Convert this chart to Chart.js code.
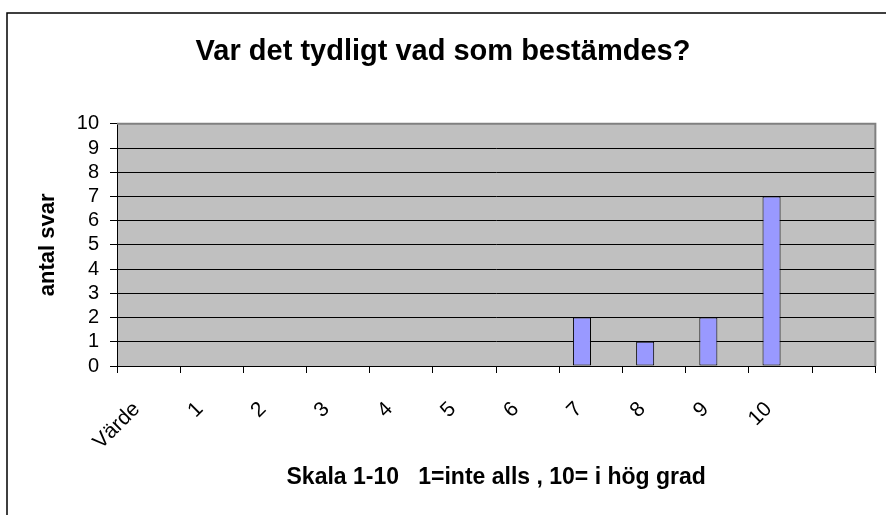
<!DOCTYPE html>
<html>
<head>
<meta charset="utf-8">
<script src="https://cdn.jsdelivr.net/npm/chart.js@4.4.1/dist/chart.umd.min.js"></script>
<style>
  html, body { margin: 0; padding: 0; background: #ffffff; }
  #wrap { width: 886px; height: 515px; }
</style>
</head>
<body>
<div id="wrap"><canvas id="chart" width="886" height="515"></canvas></div>
<script>
// category labels (last slot is an empty category in the source sheet)
const categories = ["Värde", "1", "2", "3", "4", "5", "6", "7", "8", "9", "10", ""];
// number of answers per scale step
const answers = [null, 0, 0, 0, 0, 0, 0, 2, 1, 2, 7, null];
// second (empty) series, keeps the bars on the left of each slot like the original
const emptySeries = [null, null, null, null, null, null, null, null, null, null, null, null];

const chartTitle = "Var det tydligt vad som bestämdes?";
const xTitle = "Skala 1-10   1=inte alls , 10= i hög grad";
const yTitle = "antal svar";
const yMin = 0;
const yMax = 10;
const yStep = 1;

const FONT = "Arial, 'Liberation Sans', sans-serif";

// gray plot background, plot border and outer frame
const frame = {
    id: "frame",
    beforeDraw(chart) {
        const ctx = chart.ctx;
        const a = chart.chartArea;
        ctx.save();
        ctx.fillStyle = "#ffffff";
        ctx.fillRect(0, 0, chart.width, chart.height);
        ctx.strokeStyle = "#000000";
        ctx.lineWidth = 1.5;
        ctx.strokeRect(7, 13, chart.width + 20, chart.height + 20);
        ctx.fillStyle = "#c0c0c0";
        ctx.fillRect(a.left, a.top, a.right - a.left, a.bottom - a.top);
        ctx.restore();
    },
    beforeDatasetsDraw(chart) {
        const ctx = chart.ctx;
        const a = chart.chartArea;
        ctx.save();
        ctx.strokeStyle = "#808080";
        ctx.lineWidth = 2;
        ctx.beginPath();
        ctx.moveTo(a.left, a.top);
        ctx.lineTo(a.right, a.top);
        ctx.lineTo(a.right, a.bottom);
        ctx.stroke();
        ctx.restore();
    }
};

new Chart(document.getElementById("chart"), {
    type: "bar",
    data: {
        labels: categories,
        datasets: [
            {
                label: "antal",
                data: answers,
                backgroundColor: "#9999ff",
                borderColor: "#000000",
                borderWidth: 1,
                borderSkipped: false,
                barPercentage: 1,
                categoryPercentage: 0.571
            },
            {
                label: "tom",
                data: emptySeries,
                backgroundColor: "#993366",
                barPercentage: 1,
                categoryPercentage: 0.571
            }
        ]
    },
    options: {
        responsive: false,
        animation: false,
        devicePixelRatio: 1,
        layout: { padding: { left: 10, right: 10, top: 0, bottom: 0 } },
        plugins: {
            legend: { display: false },
            tooltip: { enabled: false },
            title: {
                display: true,
                text: chartTitle,
                color: "#000000",
                font: { family: FONT, size: 29, weight: "bold" },
                padding: { top: 35, bottom: 54 }
            }
        },
        scales: {
            x: {
                offset: true,
                grid: {
                    offset: true,
                    drawOnChartArea: false,
                    drawTicks: true,
                    tickLength: 7,
                    color: "#000000"
                },
                border: { display: true, color: "#000000", width: 1 },
                ticks: {
                    color: "#000000",
                    font: { family: FONT, size: 21 },
                    minRotation: 45,
                    maxRotation: 45,
                    autoSkip: false,
                    labelOffset: -12,
                    padding: 24
                },
                title: {
                    display: true,
                    text: xTitle,
                    color: "#000000",
                    font: { family: FONT, size: 23, weight: "bold" },
                    padding: { top: 0, bottom: 24 }
                },
                afterFit(scale) { scale.height = 149; }
            },
            y: {
                min: yMin,
                max: yMax,
                grid: {
                    color: "#000000",
                    lineWidth: 1,
                    drawTicks: true,
                    tickLength: 7
                },
                border: { display: true, color: "#000000", width: 1 },
                ticks: {
                    stepSize: yStep,
                    autoSkip: false,
                    color: "#000000",
                    font: { family: FONT, size: 20 },
                    padding: 11
                },
                title: {
                    display: true,
                    text: yTitle,
                    color: "#000000",
                    font: { family: FONT, size: 22, weight: "bold" },
                    padding: { top: 25, bottom: 0 }
                },
                afterFit(scale) { scale.width = 107; }
            }
        }
    },
    plugins: [frame]
});
</script>
</body>
</html>
